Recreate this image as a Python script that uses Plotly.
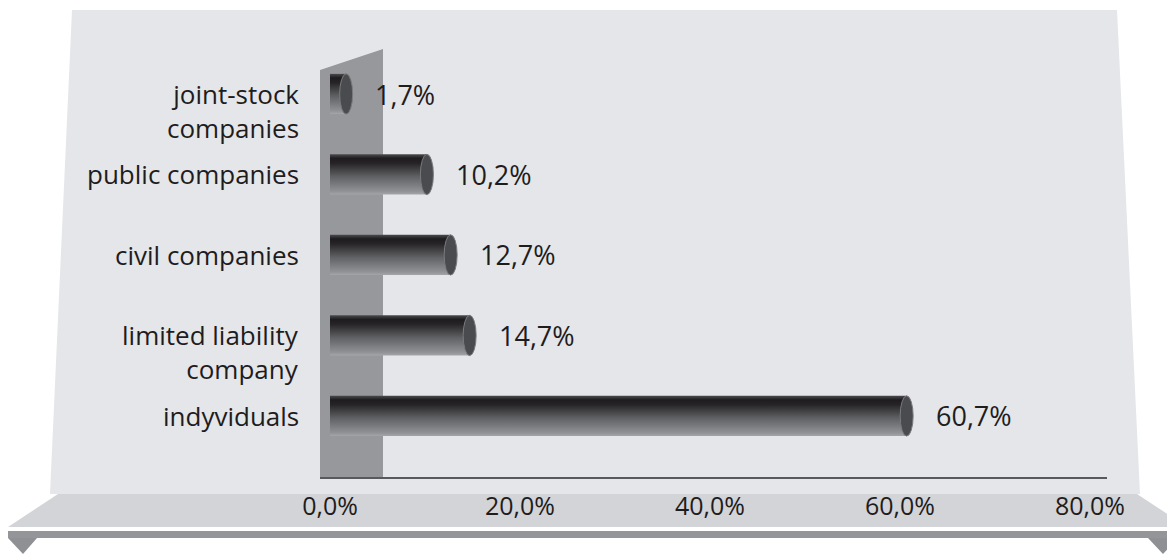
import plotly.graph_objects as go

# ---------------- data ----------------
CATEGORIES = ["indyviduals", "limited liability<br>company", "civil companies",
              "public companies", "joint-stock<br>companies"]
VALUES = [60.7, 14.7, 12.7, 10.2, 1.7]
VALUE_LABELS = ["60,7%", "14,7%", "12,7%", "10,2%", "1,7%"]
TICK_VALUES = [0, 20, 40, 60, 80]
TICK_LABELS = ["0,0%", "20,0%", "40,0%", "60,0%", "80,0%"]

# ---------------- style ----------------
W, H = 1175, 554
OFF = 8  # page body margin compensation
ML, MR, MT, MB = 312, 76, 22, 85
PW, PH = W - ML - MR, H - MT - MB
FONT = "Open Sans"
TXT = "#1f1c1d"
HALF = 0.25  # half bar thickness (category units)

BAR_SCALE = [[0.0, "#a4a6a9"], [0.08, "#909295"], [0.45, "#5f6063"],
             [0.78, "#262426"], [0.9, "#1e1c1e"], [1.0, "#4a4a4c"]]


def px(x):
    return (x - OFF - ML) / PW


def py(y):
    return (H - MB - (y - OFF)) / PH


def poly(points):
    return "M " + " L ".join(f"{px(a):.5f},{py(b):.5f}" for a, b in points) + " Z"


fig = go.Figure()

for i, v in enumerate(VALUES):
    fig.add_trace(go.Scatter(
        x=[0, v, v, 0, 0],
        y=[i - HALF, i - HALF, i + HALF, i + HALF, i - HALF],
        mode="lines", fill="toself",
        fillgradient=dict(type="vertical", colorscale=BAR_SCALE),
        line=dict(width=0, color="rgba(0,0,0,0)"),
        hoverinfo="skip", showlegend=False,
    ))

shapes = []
# background panel
shapes.append(dict(type="path", xref="paper", yref="paper", layer="below",
                   path=poly([(72, 10), (1117, 10), (1140, 494), (50, 494)]),
                   fillcolor="#e4e6e9", line=dict(width=0)))
# floor strip
shapes.append(dict(type="path", xref="paper", yref="paper", layer="below",
                   path=poly([(58, 494), (1137, 494), (1187, 527), (8, 527)]),
                   fillcolor="#d2d4d7", line=dict(width=0)))
# dark base strip
shapes.append(dict(type="path", xref="paper", yref="paper", layer="below",
                   path=poly([(8, 531), (1185, 531), (1185, 538), (8, 538)]),
                   fillcolor="#939598", line=dict(width=0)))
# triangles
shapes.append(dict(type="path", xref="paper", yref="paper", layer="below",
                   path=poly([(8, 538), (37, 538), (23, 554)]),
                   fillcolor="#8e9093", line=dict(width=0)))
shapes.append(dict(type="path", xref="paper", yref="paper", layer="below",
                   path=poly([(1148, 538), (1178, 538), (1163, 554)]),
                   fillcolor="#8e9093", line=dict(width=0)))
# wall
shapes.append(dict(type="path", xref="paper", yref="paper", layer="below",
                   path=poly([(320, 70), (383, 49), (383, 477), (320, 477)]),
                   fillcolor="#96989b", line=dict(width=0)))

# bar end caps
for i, v in enumerate(VALUES):
    shapes.append(dict(type="circle", xref="x", yref="y", layer="above",
                       xsizemode="pixel", xanchor=v, x0=-6.5, x1=6.5,
                       y0=i - HALF, y1=i + HALF,
                       fillcolor="#4a4b4e", line=dict(color="#7a7b7e", width=1)))

annotations = []
for i, (v, lab) in enumerate(zip(VALUES, VALUE_LABELS)):
    annotations.append(dict(x=v, y=i, xref="x", yref="y", text=lab,
                            showarrow=False, xanchor="left", yanchor="middle",
                            xshift=27, font=dict(family=FONT, size=27, color=TXT)))
for i, cat in enumerate(CATEGORIES):
    annotations.append(dict(x=0, y=i, xref="paper", yref="y", text=cat,
                            showarrow=False, xanchor="right", yanchor="top",
                            align="right", xshift=-19, yshift=20,
                            font=dict(family=FONT, size=26, color=TXT)))

fig.update_layout(
    width=W, height=H, autosize=False,
    margin=dict(l=ML, r=MR, t=MT, b=MB, pad=0),
    paper_bgcolor="white", plot_bgcolor="rgba(0,0,0,0)",
    shapes=shapes, annotations=annotations, showlegend=False,
    font=dict(family=FONT, size=24, color=TXT),
    xaxis=dict(range=[-1.053, 81.79], tickmode="array", tickvals=TICK_VALUES,
               ticktext=TICK_LABELS, showgrid=False, zeroline=False,
               showline=True, linecolor="#58595b", linewidth=2, ticks="",
               ticklabelstandoff=6,
               tickfont=dict(family=FONT, size=25, color=TXT), fixedrange=True),
    yaxis=dict(range=[-0.758, 4.795], visible=False, fixedrange=True),
)

fig.write_html("out.html")
